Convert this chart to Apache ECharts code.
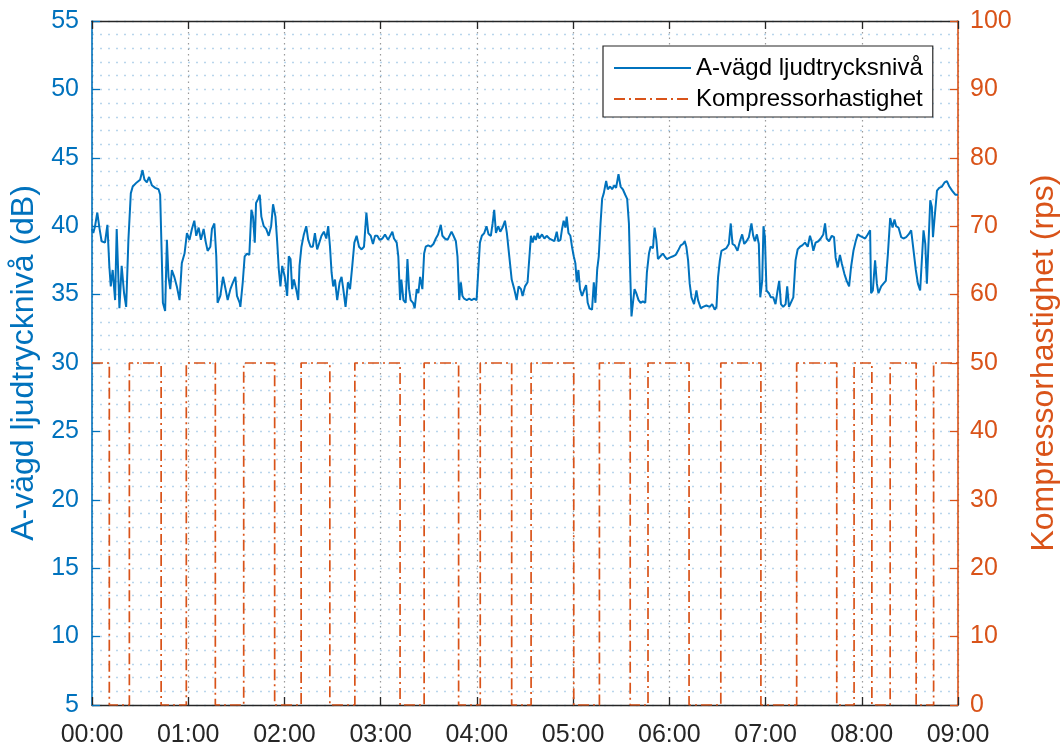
<!DOCTYPE html>
<html>
<head>
<meta charset="utf-8">
<script src="https://cdn.jsdelivr.net/npm/echarts@6/dist/echarts.min.js"></script>
<style>
  html, body { margin: 0; padding: 0; background: #ffffff; }
  #chart { width: 1060px; height: 747px; }
</style>
</head>
<body>
<div id="chart"></div>
<script>
// Time in minutes after 00:00, sound level in dB(A)
const soundTime = [
  0, 0.8, 1.9, 3.3, 4.6, 6.0, 8.1, 9.6, 10.8, 11.7, 12.9, 14.4, 15.4, 17.1, 18.5, 20, 21.3, 22.7,
  24.2, 25.4, 27.9, 30, 31.5, 32.7, 34.2, 35.6, 37.3, 39.4, 41.5, 42.5, 43.5, 44.2, 45.6, 46.7,
  47.7, 48.8, 49.8, 51.3, 52.9, 54.6, 56, 57.7, 59.2, 60.8, 62.3, 63.8, 65, 66.5, 67.9, 69.6,
  71, 72.1, 73.8, 74.8, 76.3, 77.5, 78.3, 80, 81.7, 83.1, 84.6, 86.3, 87.9, 89.4, 90.4, 92.1,
  92.5, 94, 95.2, 96.7, 98.1, 99.4, 100.4, 101.5, 102.3, 103.6, 104.6, 105.6, 107.1, 108.6,
  110.2, 111.7, 112.9, 114.4, 115.4, 116.5, 117.5, 118.6, 120.2, 121.7, 122.7, 123.8, 124.8,
  125.9, 127.3, 128.6, 129.4, 130.6, 132.1, 133.6, 134.8, 136.3, 137.7, 139, 140.4, 141.5,
  143.1, 144.6, 146.1, 147.3, 148.4, 149.4, 150.4, 151.5, 152.9, 154.4, 155.6, 156.7, 158.1,
  159.6, 160.9, 162.3, 163.6, 165, 166.5, 168.1, 169.6, 171.1, 172.3, 173.8, 175.2, 176.5,
  177.9, 179.4, 181.1, 182.7, 183.1, 184.6, 185.8, 187.3, 188.3, 190, 191, 192.1, 192.9,
  194.2, 195.6, 196.7, 197.7, 198.7, 200.2, 201.2, 202.5, 203.5, 204.6, 206, 207.1, 208.1,
  209.6, 211.2, 212.9, 214.4, 215.8, 217.5, 218.5, 220, 221.7, 222.7, 224.2, 225.4, 226.9,
  227.9, 229, 230, 231, 232.1, 233.7, 235.2, 236.7, 238.3, 239.8, 240.8, 241.9, 243.1, 244.6,
  246, 247.3, 248.7, 249.8, 250.8, 251.9, 253.3, 254.6, 256, 257.5, 258.7, 260.2, 261.7,
  263.3, 264.8, 266, 267.5, 268.5, 270, 271.6, 272.7, 273.7, 274.8, 275.8, 276.8, 277.9,
  278.9, 280.6, 282.1, 283.5, 285.2, 286.8, 288.3, 289.8, 290.8, 292.1, 293.1, 294.1, 295.2,
  296, 297.1, 298.3, 299.3, 300.4, 301.4, 302.3, 303.3, 304.3, 305.6, 307.1, 308.1, 309.1,
  310.2, 311.8, 312.9, 313.9, 315, 316, 317.1, 318.1, 319.1, 320.6, 321.6, 323.1, 324.3,
  325.8, 326.8, 328.3, 329.6, 331, 332.5, 333.7, 334.8, 335.6, 336.4, 337.3, 338.3, 339.4,
  340.8, 342.1, 343.5, 345, 346, 347.3, 348.3, 349.8, 350.8, 351.9, 352.9, 354.4, 356, 357.1,
  358.5, 360.2, 362.3, 363.9, 365.4, 367.1, 368.5, 369.6, 370.6, 371.7, 372.7, 373.8, 375.4,
  376.9, 377.9, 379.6, 381, 383.1, 385.2, 386.7, 388.3, 389.4, 390.4, 391.5, 392.5, 393.5,
  395.6, 397.1, 398.3, 399.4, 400.8, 402.5, 404, 405.4, 406.7, 408.1, 409.6, 411.2, 412.3,
  413.3, 414.6, 415.8, 416.7, 417.9, 418.7, 419.6, 420.6, 422.1, 423.3, 424.8, 426.2, 427.5,
  428.5, 429.6, 431, 432.5, 433.5, 434.6, 435.8, 437.3, 438.7, 440, 441.5, 442.9, 444.6,
  446.3, 447.7, 448.7, 449.8, 451.2, 452.9, 454.4, 456, 457.1, 458.1, 459.6, 461.3, 462.7,
  463.7, 465, 466.4, 467.5, 469.2, 470.6, 472.1, 473.3, 474.8, 476.2, 477.5, 478.9, 480.4,
  482.1, 483.7, 485.2, 485.8, 486.9, 488.3, 489.4, 490.4, 492.1, 493.5, 495, 496.3, 497.7,
  499.2, 500.4, 501.4, 502.9, 504.6, 506, 507.7, 509.2, 510.8, 512.3, 513.7, 515, 516.4,
  517.5, 518.5, 519.6, 520.6, 521.7, 522.7, 523.7, 524.4, 525.4, 526.9, 528.3, 530, 531.6,
  533.1, 534.6, 536.3, 538.3, 540
];
const soundLevel = [
  39.8, 39.5, 40, 41, 39.9, 38.9, 38.8, 40.1, 37.1, 35.6, 36.8, 34.6, 39.8, 34, 37.1, 35.1, 34.1, 39,
  42.4, 42.9, 43.2, 43.4, 44.1, 43.4, 43.2, 43.6, 43, 42.8, 42.7, 42.3, 37.8, 34.4, 33.8, 39,
  36.3, 35.4, 36.8, 36.3, 35.6, 34.6, 37.3, 38, 39.5, 39, 39.8, 40.4, 39.3, 39.9, 39, 39.8,
  38.8, 38.2, 38.5, 39.8, 40.2, 37.8, 34.4, 34.9, 36.3, 35.5, 34.6, 35.4, 35.9, 36.3, 34.9, 34.4,
  34.1, 35.9, 37.8, 38, 37.9, 41.2, 40.7, 38.8, 41.7, 42, 42.3, 40.7, 40, 39.8,
  39.3, 40, 41.6, 40.7, 39, 36.8, 35.6, 37.1, 36.3, 34.9, 37.8, 37.6, 35.4,
  36.1, 35.4, 34.6, 37.1, 38.5, 39.4, 40, 39, 38.5, 38.5, 39.5, 38.3, 38.7,
  39.3, 39.6, 39.1, 40, 38.5, 36.6, 35.6, 36.1, 34.6, 35.9, 36.3, 35.4, 34.1,
  35.9, 35.4, 37.1, 38.8, 39.3, 38.5, 38.3, 38.5, 41, 39.5, 39.3, 38.7, 39.3,
  39.3, 39, 39.1, 39.4, 39.3, 39, 39.1, 39.6, 39.1, 38.8, 37.8, 34.6, 36.1,
  34.6, 34.4, 37.6, 35.4, 34.6, 34.4, 34, 35.4, 35.1, 36.3, 35.4, 38, 38.5,
  38.6, 38.5, 38.7, 39.1, 39.4, 40.1, 39.3, 39.1, 39, 39.1, 39.6, 39.3, 38.9,
  37.8, 34.6, 35.9, 34.9, 34.7, 34.6, 34.7, 34.6, 34.7, 34.6, 36.6, 38.8, 39.3, 39.5,
  40, 39.4, 39.3, 40.2, 41.2, 39.5, 40, 39.6, 39.9, 40.4, 39.5, 37.8, 36.1,
  35.4, 34.6, 35.6, 35.4, 34.9, 35.6, 35.9, 36, 39.3, 38.8, 39.3, 39, 39.5,
  39.1, 39.4, 39.1, 39.3, 39.1, 39, 38.9, 39.6, 38.9, 39, 39.8, 40.4, 39.9,
  40.7, 39.5, 39.3, 38.5, 37.8, 37.3, 35.9, 36.8, 35.4, 34.9, 35.4, 35.7, 34.4,
  34, 33.9, 35.9, 34.4, 36.8, 37.8, 40.2, 42, 42.4, 43.3, 42.7, 42.9, 42.7,
  43, 42.8, 43.8, 42.9, 42.7, 42.3, 42, 40.2, 36.6, 33.4, 34.4, 35.4, 35.1,
  34.6, 34.4, 34.5, 34.4, 36.6, 38, 38.5, 38.4, 39.9, 39, 37.6, 37.8, 38, 37.8,
  37.6, 37.7, 37.8, 37.9, 38.2, 38.6, 38.7, 38.9, 38.5, 37.5, 35.8, 34.8, 34.3,
  35.3, 34.6, 34, 34.1, 34.2, 34.1, 34.3, 33.9, 34.1, 36.3, 37.5, 38.2, 38.3,
  38.4, 38.7, 40.2, 38.7, 38.6, 38.2, 38.9, 39.4, 38.7, 38.9, 39.2, 40.2, 39.3,
  38.9, 39.4, 38.7, 34.8, 36, 40, 39.2, 35.3, 35.1, 34.8, 34.8, 34.3, 35.3,
  36, 34.3, 34.1, 34.3, 35.6, 34.1, 34.1, 34.8, 37.5, 38.3, 38.5, 38.6, 38.8,
  38.5, 39.3, 38.9, 38.2, 38.8, 38.9, 39.1, 39.4, 40.2, 39.1, 38.9, 39.3, 39.2,
  37.7, 37, 37.9, 37.3, 36.5, 36, 35.6, 37, 38.2, 38.9, 39.4, 39.3, 39.2,
  39.1, 39.4, 39.7, 35.1, 35.3, 37.5, 35.8, 35.1, 35.6, 35.8, 36, 38, 40.6,
  39.9, 40.5, 40, 39.9, 39.2, 39.1, 39.2, 39.4, 39.7, 38.2, 36.8, 35.8, 35.3,
  35.2, 39.7, 38.7, 35.8, 35.8, 41.9, 41.4, 39.2, 40.6, 42.6, 42.8, 42.9, 43.2,
  43.3, 42.9, 42.6, 42.3, 42.3
];

// Compressor speed (rps) at each switching instant, held until the next one
const compressorTime = [
  0, 10.8, 23.3, 43.1, 58.8, 76.9, 94.6, 113.9, 130.4, 148.3, 163.9, 192.1, 207.1, 228.6,
  242.1, 261.7, 273.8, 300.4, 316.4, 335.6, 346.7, 372.3, 392.1, 417.1, 439.4, 464.4,
  475.2, 486.3, 497.7, 513.9, 524.8, 540
];
const compressorSpeed = [
  50, 0, 50, 0, 50, 0, 50, 0, 50, 0, 50, 0, 50, 0,
  50, 0, 50, 0, 50, 0, 50, 0, 50, 0, 50, 0,
  50, 0, 50, 0, 50, 50
];

const hourLabels = ['00:00', '01:00', '02:00', '03:00', '04:00', '05:00', '06:00', '07:00', '08:00', '09:00'];

const seriesNames = ['A-vägd ljudtrycksnivå', 'Kompressorhastighet'];
const axisNames = ['A-vägd ljudtrycknivå (dB)', 'Kompressorhastighet (rps)'];

const BLUE = '#0072BD';
const ORANGE = '#D95319';
const DARK = '#262626';
const FONT = '"Liberation Sans", Arial, Helvetica, sans-serif';

const chart = echarts.init(document.getElementById('chart'), null, { renderer: 'canvas' });

const xCommon = {
  type: 'value',
  min: 0,
  max: 540,
  interval: 60,
  axisLine: { show: true, onZero: false, lineStyle: { color: DARK, width: 1.3 } },
  axisTick: { show: true, inside: true, length: 8, lineStyle: { color: DARK, width: 1.3 } }
};

chart.setOption({
  animation: false,
  backgroundColor: '#ffffff',
  textStyle: { fontFamily: FONT },
  grid: { left: 92, right: 102, top: 21, bottom: 42, containLabel: false, outerBoundsMode: 'none' },
  legend: {
    orient: 'vertical',
    left: 603,
    top: 46,
    itemWidth: 77,
    itemHeight: 14,
    itemGap: 7,
    padding: [10, 10, 6, 10],
    backgroundColor: '#ffffff',
    borderColor: DARK,
    borderWidth: 1.2,
    itemStyle: { opacity: 0 },
    textStyle: { fontSize: 24, color: '#000000', fontFamily: FONT },
    data: seriesNames
  },
  xAxis: [
    Object.assign({}, xCommon, {
      position: 'bottom',
      axisLabel: {
        color: DARK, fontSize: 25, fontFamily: FONT, margin: 18,
        formatter: (v) => hourLabels[Math.round(v / 60)]
      },
      splitLine: { show: true, lineStyle: { color: '#9a9a9a', type: [1.5, 4], width: 1.2 } }
    }),
    Object.assign({}, xCommon, {
      position: 'top',
      axisLabel: { show: false },
      splitLine: { show: false }
    })
  ],
  yAxis: [
    {
      type: 'value',
      position: 'left',
      min: 5,
      max: 55,
      interval: 5,
      name: axisNames[0],
      nameLocation: 'middle',
      nameGap: 50,
      nameTextStyle: { color: BLUE, fontSize: 32, fontFamily: FONT },
      axisLine: { show: true, onZero: false, lineStyle: { color: BLUE, width: 1.6 } },
      axisTick: { show: true, inside: true, length: 8, lineStyle: { color: BLUE, width: 1.3 } },
      axisLabel: { color: BLUE, fontSize: 25, fontFamily: FONT, margin: 13 },
      splitLine: { show: true, lineStyle: { color: '#b9d5ec', type: [2, 6], width: 1.3 } },
      minorTick: { show: false, splitNumber: 5 },
      minorSplitLine: { show: true, lineStyle: { color: '#b9d5ec', type: [2, 6], width: 1.3 } }
    },
    {
      type: 'value',
      position: 'right',
      min: 0,
      max: 100,
      interval: 10,
      name: axisNames[1],
      nameLocation: 'middle',
      nameGap: 70,
      nameRotate: 90,
      nameTextStyle: { color: ORANGE, fontSize: 32, fontFamily: FONT },
      axisLine: { show: true, onZero: false, lineStyle: { color: ORANGE, width: 1.6 } },
      axisTick: { show: true, inside: true, length: 8, lineStyle: { color: ORANGE, width: 1.3 } },
      axisLabel: { color: ORANGE, fontSize: 25, fontFamily: FONT, margin: 12 },
      splitLine: { show: false }
    }
  ],
  series: [
    {
      name: seriesNames[0],
      type: 'line',
      xAxisIndex: 0,
      yAxisIndex: 0,
      symbol: 'none',
      showSymbol: false,
      lineStyle: { color: BLUE, width: 2 },
      itemStyle: { color: BLUE },
      z: 3,
      data: soundTime.map((t, i) => [t, soundLevel[i]])
    },
    {
      name: seriesNames[1],
      type: 'line',
      xAxisIndex: 0,
      yAxisIndex: 1,
      step: 'end',
      symbol: 'none',
      showSymbol: false,
      lineStyle: { color: ORANGE, width: 1.7, type: [11, 4, 2, 4] },
      itemStyle: { color: ORANGE },
      z: 2,
      data: compressorTime.map((t, i) => [t, compressorSpeed[i]])
    }
  ]
});
</script>
</body>
</html>
